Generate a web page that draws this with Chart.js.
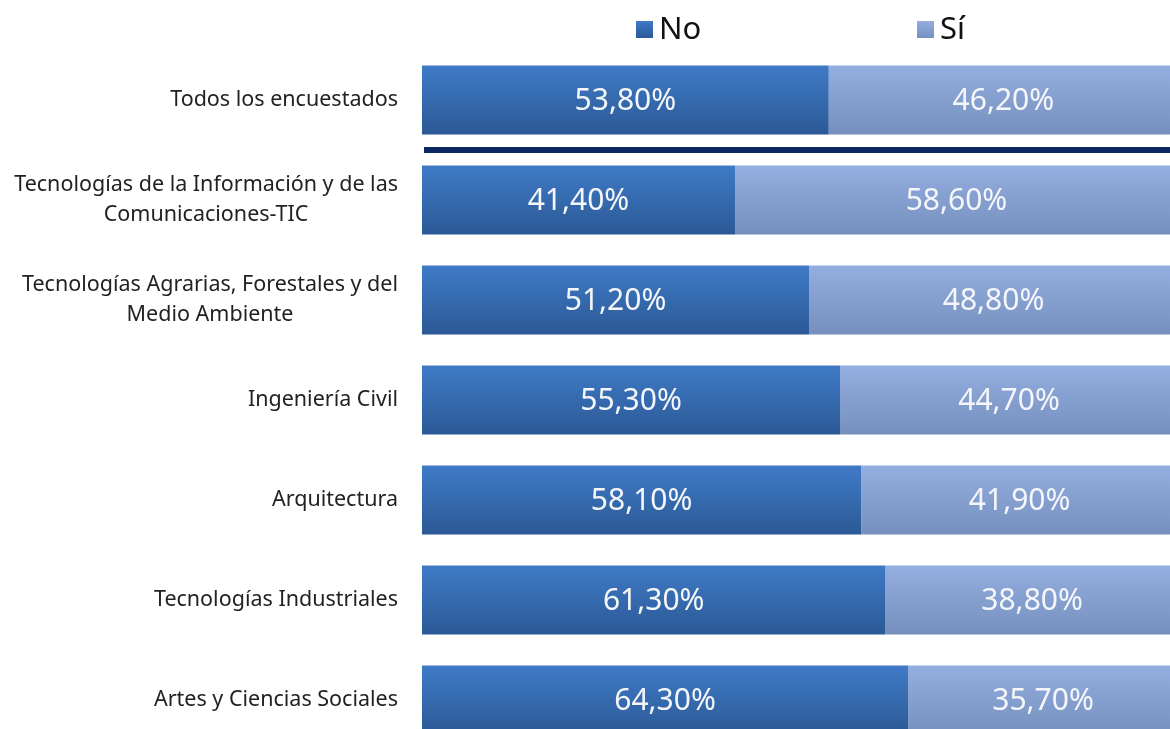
<!DOCTYPE html>
<html>
<head>
<meta charset="utf-8">
<script src="https://cdn.jsdelivr.net/npm/chart.js@4.4.0/dist/chart.umd.min.js"></script>
<style>
  html, body { margin: 0; padding: 0; background: #fff; overflow: hidden; }
  .wrap { width: 1180px; height: 760px; position: relative; }
</style>
</head>
<body>
<div class="wrap"><canvas id="chart"></canvas></div>
<script>
const categories = [
  ['Todos los encuestados'],
  ['Tecnologías de la Información y de las', 'Comunicaciones-TIC'],
  ['Tecnologías Agrarias, Forestales y del', 'Medio Ambiente'],
  ['Ingeniería Civil'],
  ['Arquitectura'],
  ['Tecnologías Industriales'],
  ['Artes y Ciencias Sociales']
]
const noValues = [53.8, 41.4, 51.2, 55.3, 58.1, 61.3, 64.3]
const siValues = [46.2, 58.6, 48.8, 44.7, 41.9, 38.8, 35.7]
const seriesNames = ['No', 'Sí']

const fontFamily = '"Noto Sans", "Open Sans", sans-serif'
const barColors = [['#3f7ac6', '#2b5996'], ['#93aee0', '#7690be']]

// vertical gradient per bar, computed from the y scale
const barFill = (idx) => (ctx) => {
    const chart = ctx.chart
    const y = chart.scales.y
    if (!chart.chartArea || !y || ctx.dataIndex === undefined) return barColors[idx][0]
    const c = y.getPixelForValue(ctx.dataIndex)
    const half = 34.5
    const g = chart.ctx.createLinearGradient(0, c - half, 0, c + half)
    g.addColorStop(0, barColors[idx][0])
    g.addColorStop(1, barColors[idx][1])
    return g
}

const fmt = v => v.toFixed(2).replace('.', ',') + '%'

const drawExtras = {
    id: 'drawExtras',
    afterDatasetsDraw(chart) {
        const ctx = chart.ctx
        const area = chart.chartArea
        const y = chart.scales.y
        ctx.save()

        // value labels inside segments
        ctx.font = '30px ' + fontFamily
        ctx.fillStyle = '#f4f6fa'
        ctx.textAlign = 'center'
        ctx.textBaseline = 'middle'
        chart.data.datasets.forEach((ds, di) => {
            chart.getDatasetMeta(di).data.forEach((bar, i) => {
                const left = Math.min(bar.x, bar.base)
                const right = Math.min(Math.max(bar.x, bar.base), chart.width)
                ctx.fillText(fmt(ds.data[i]), (left + right) / 2, bar.y + 1)
            })
        })

        // separator under the first row
        const sepY = (y.getPixelForValue(0) + y.getPixelForValue(1)) / 2
        ctx.fillStyle = '#0c2862'
        ctx.fillRect(area.left + 2, sepY - 3, area.right - area.left, 6)

        // category labels: block right-aligned, lines centred inside the block
        ctx.font = '21.5px ' + fontFamily
        ctx.fillStyle = '#222'
        ctx.textBaseline = 'middle'
        ctx.textAlign = 'center'
        const rightEdge = area.left - 24
        const lineH = 30
        categories.forEach((lines, i) => {
            const c = y.getPixelForValue(i)
            const maxW = Math.max(...lines.map(l => ctx.measureText(l).width))
            const cx = rightEdge - maxW / 2
            const top = c - (lines.length - 1) * lineH / 2
            lines.forEach((l, k) => ctx.fillText(l, cx, top + k * lineH))
        })

        // legend
        ctx.font = '31px ' + fontFamily
        ctx.textAlign = 'left'
        const mid = (area.left + area.right) / 2
        const starts = [mid - 164, mid + 117]
        seriesNames.forEach((name, i) => {
            const x = starts[i]
            const g = ctx.createLinearGradient(0, 21, 0, 38)
            g.addColorStop(0, barColors[i][0])
            g.addColorStop(1, barColors[i][1])
            ctx.fillStyle = g
            ctx.fillRect(x, 21, 17, 17)
            ctx.fillStyle = '#111'
            ctx.fillText(name, x + 23, 30)
        })
        ctx.restore()
    }
}

new Chart(document.getElementById('chart'), {
    type: 'bar',
    data: {
        labels: categories.map(l => l.join(' ')),
        datasets: [
            { label: seriesNames[0], data: noValues, backgroundColor: barFill(0), borderWidth: 0 },
            { label: seriesNames[1], data: siValues, backgroundColor: barFill(1), borderWidth: 0 }
        ]
    },
    options: {
        indexAxis: 'y',
        responsive: true,
        maintainAspectRatio: false,
        animation: false,
        layout: { padding: { top: 50, bottom: 10, right: 2, left: 0 } },
        categoryPercentage: 0.69,
        barPercentage: 1,
        plugins: { legend: { display: false }, tooltip: { enabled: false } },
        scales: {
            x: { stacked: true, min: 0, max: 100, display: false },
            y: {
                stacked: true,
                grid: { display: false },
                border: { display: false },
                ticks: { display: false },
                afterFit: (s) => { s.width = 422 }
            }
        }
    },
    plugins: [drawExtras]
})
</script>
</body>
</html>
